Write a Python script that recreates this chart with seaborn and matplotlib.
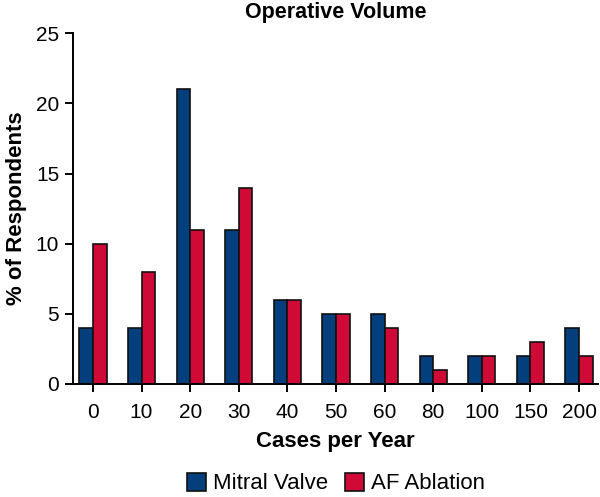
import matplotlib
matplotlib.use('Agg')
import matplotlib.pyplot as plt
import pandas as pd
import seaborn as sns

# cases per year categories and % of respondents
categories = ['0', '10', '20', '30', '40', '50', '60', '80', '100', '150', '200']
mitral_valve = [4, 4, 21, 11, 6, 5, 5, 2, 2, 2, 4]
af_ablation = [10, 8, 11, 14, 6, 5, 4, 1, 2, 3, 2]
series_names = ['Mitral Valve', 'AF Ablation']
colors = ['#023f7c', '#cf0a36']

df = pd.DataFrame({
    'Cases': categories * 2,
    'Pct': mitral_valve + af_ablation,
    'Series': [series_names[0]] * len(categories) + [series_names[1]] * len(categories),
})

sns.set_style('ticks')
plt.rcParams['font.family'] = ['Liberation Sans', 'DejaVu Sans']
plt.rcParams['text.color'] = 'black'
plt.rcParams['axes.labelcolor'] = 'black'
plt.rcParams['axes.edgecolor'] = 'black'

fig = plt.figure(figsize=(6.0, 4.97), dpi=100)
ax = fig.add_axes([0.1217, 0.2274, 0.875, 0.7056])

sns.barplot(data=df, x='Cases', y='Pct', hue='Series', order=categories,
            hue_order=series_names, palette=colors, width=0.56,
            edgecolor='#111111', linewidth=1.2, saturation=1, ax=ax, legend=False)

ax.set_ylim(0, 25)
ax.set_yticks([0, 5, 10, 15, 20, 25])
ax.set_xlim(-0.41, 10.39)

# spines and ticks
for side in ['top', 'right']:
    ax.spines[side].set_visible(False)
ax.spines['left'].set_linewidth(1.4)
ax.spines['bottom'].set_linewidth(1.4)
ax.tick_params(axis='both', direction='out', length=6, width=1.4, labelsize=15, colors='black')
ax.tick_params(axis='x', pad=8)
ax.tick_params(axis='y', pad=4)

ax.set_title('Operative Volume', fontsize=15.5, fontweight='bold', pad=11)
ax.set_xlabel('Cases per Year', fontsize=16, fontweight='bold', labelpad=6)
ax.set_ylabel('% of Respondents', fontsize=16, fontweight='bold', labelpad=6)

# legend below the chart
handles = [plt.Rectangle((0, 0), 1, 1, facecolor=c, edgecolor='#111111', linewidth=1.2) for c in colors]
fig.legend(handles, series_names, loc='lower center', ncol=2, frameon=False,
           fontsize=16, handlelength=0.85, handleheight=0.85, handletextpad=0.3,
           columnspacing=0.8, bbox_to_anchor=(0.56, -0.035))

fig.savefig('out.png', dpi=100)
